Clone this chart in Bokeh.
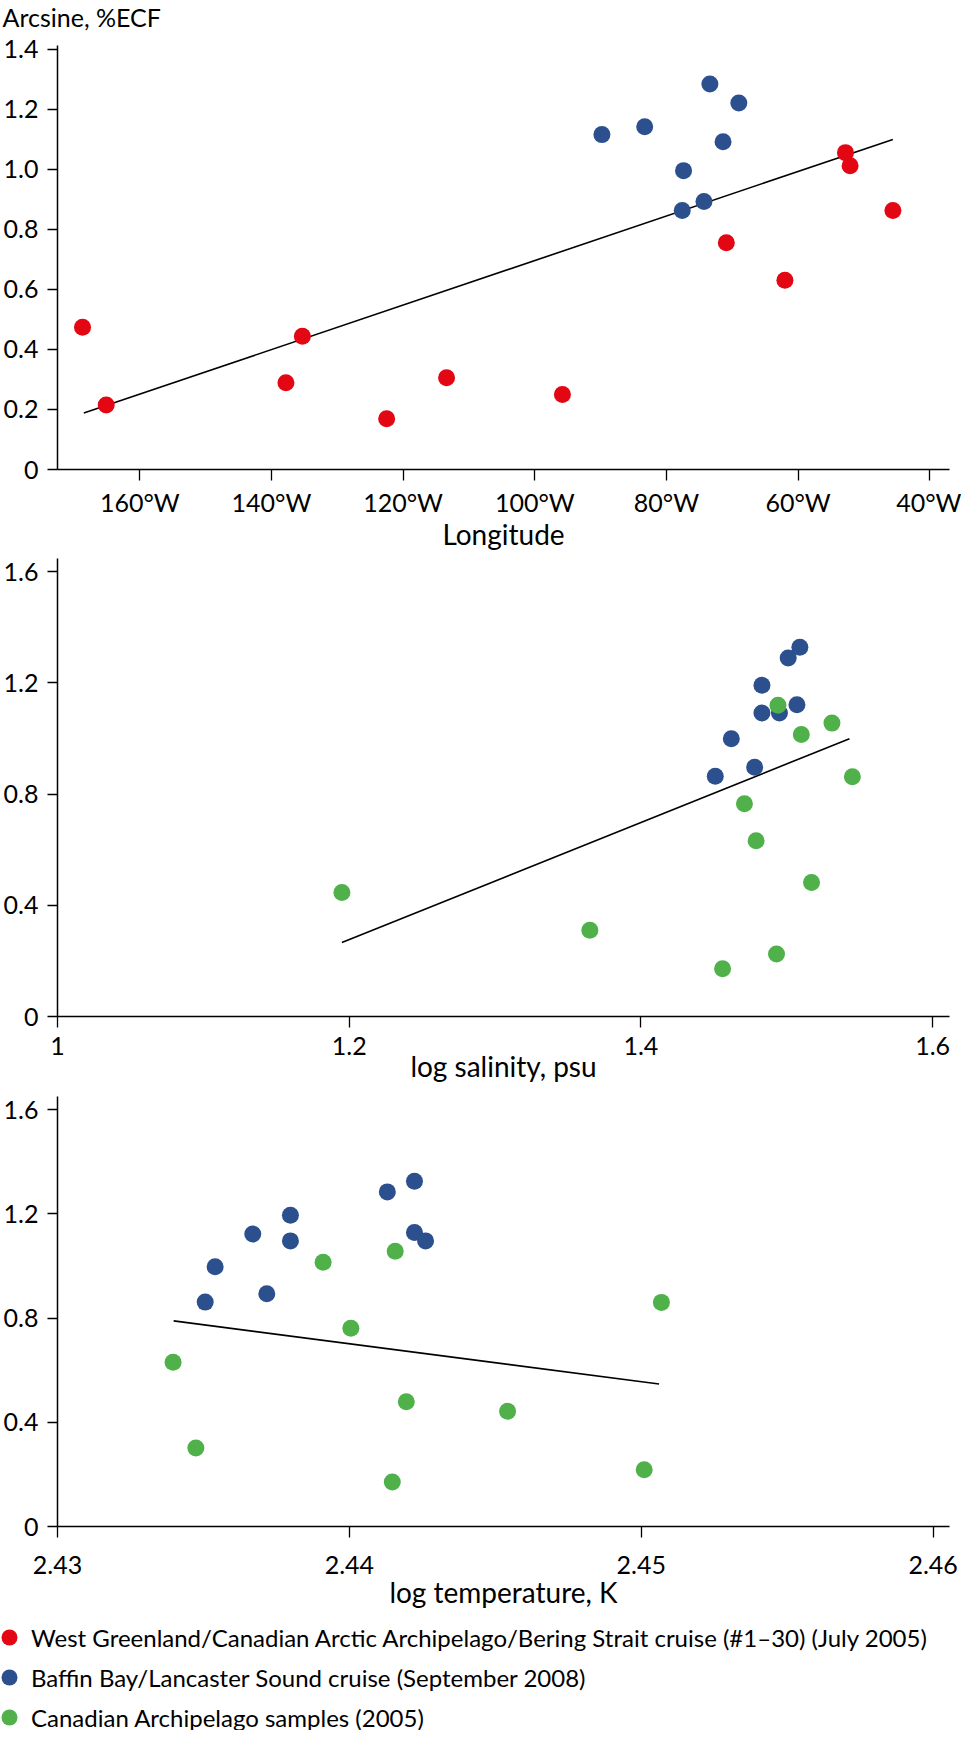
from bokeh.plotting import figure
from bokeh.models import Range1d, FixedTicker, Legend, LegendItem, Title
from bokeh.layouts import column
from bokeh.embed import file_html
from bokeh.resources import INLINE

FONT = "Lato"
RED = "#e30613"
BLUE = "#2c4f8e"
GREEN = "#50b04a"

series_names = [
    "West Greenland/Canadian Arctic Archipelago/Bering Strait cruise (#1\u201330) (July 2005)",
    "Baffin Bay/Lancaster Sound cruise (September 2008)",
    "Canadian Archipelago samples (2005)",
]
series_colors = [RED, BLUE, GREEN]

y_title = "Arcsine, %ECF"

# ---- Panel 1: longitude ----
lon_red = [-168.7, -165.1, -137.8, -135.3, -122.5, -113.4, -95.8, -70.9, -62.0, -52.8, -52.1, -45.6]
asin_red = [0.474, 0.215, 0.289, 0.444, 0.169, 0.306, 0.250, 0.756, 0.631, 1.056, 1.012, 0.863]
lon_blue = [-89.8, -83.3, -73.4, -69.0, -71.4, -77.4, -74.3, -77.6]
asin_blue = [1.116, 1.142, 1.285, 1.221, 1.092, 0.996, 0.893, 0.863]
lon_fit_x = [-168.5, -45.6]
lon_fit_y = [0.188, 1.100]
lon_ticks = [-160, -140, -120, -100, -80, -60, -40]
lon_tick_labels = ["160\u00b0W", "140\u00b0W", "120\u00b0W", "100\u00b0W", "80\u00b0W", "60\u00b0W", "40\u00b0W"]
asin1_ticks = [0, 0.2, 0.4, 0.6, 0.8, 1.0, 1.2, 1.4]
asin1_tick_labels = ["0", "0.2", "0.4", "0.6", "0.8", "1.0", "1.2", "1.4"]

# ---- Panel 2: log salinity ----
sal_blue = [1.451, 1.462, 1.478, 1.483, 1.483, 1.495, 1.501, 1.509, 1.507]
asin2_blue = [0.864, 0.999, 0.896, 1.091, 1.191, 1.091, 1.289, 1.328, 1.121]
sal_green = [1.195, 1.365, 1.456, 1.471, 1.479, 1.493, 1.494, 1.510, 1.517, 1.531, 1.545]
asin2_green = [0.446, 0.310, 0.172, 0.765, 0.632, 0.225, 1.119, 1.014, 0.482, 1.055, 0.862]
sal_fit_x = [1.195, 1.543]
sal_fit_y = [0.266, 0.999]
sal_ticks = [1.0, 1.2, 1.4, 1.6]
sal_tick_labels = ["1", "1.2", "1.4", "1.6"]

# ---- Panel 3: log temperature ----
temp_blue = [2.43506, 2.43540, 2.43669, 2.43717, 2.43798, 2.43798, 2.44130, 2.44223, 2.44223, 2.44261]
asin3_blue = [0.861, 0.997, 1.122, 0.893, 1.194, 1.096, 1.284, 1.325, 1.128, 1.096]
temp_green = [2.43396, 2.43474, 2.43910, 2.44005, 2.44147, 2.44157, 2.44195, 2.44542, 2.45010, 2.45069]
asin3_green = [0.630, 0.301, 1.014, 0.761, 0.171, 1.056, 0.479, 0.442, 0.218, 0.860]
temp_fit_x = [2.43398, 2.45061]
temp_fit_y = [0.789, 0.547]
temp_ticks = [2.43, 2.44, 2.45, 2.46]
temp_tick_labels = ["2.43", "2.44", "2.45", "2.46"]

asin_ticks = [0, 0.4, 0.8, 1.2, 1.6]
asin_tick_labels = ["0", "0.4", "0.8", "1.2", "1.6"]

x_titles = ["Longitude", "log salinity, psu", "log temperature, K"]

DOT = 17


def make_fig(height, btop, bbottom, xr, yr, xt, xl, yt, yl, xtitle, lab_so, title_so):
    p = figure(width=961, height=height, x_range=Range1d(*xr), y_range=Range1d(*yr),
               output_backend="svg", toolbar_location=None,
               min_border_left=56, min_border_right=12,
               min_border_top=btop, min_border_bottom=bbottom)
    p.grid.visible = False
    p.outline_line_color = None
    p.background_fill_color = "white"
    for ax in (p.xaxis[0], p.yaxis[0]):
        ax.axis_line_color = "black"
        ax.axis_line_width = 1.5
        ax.major_tick_line_color = "black"
        ax.major_tick_line_width = 1.3
        ax.minor_tick_line_color = None
        ax.major_tick_in = 0
        ax.major_label_text_font = FONT
        ax.major_label_text_font_size = "25px"
        ax.major_label_text_color = "black"
    xa = p.xaxis[0]
    xa.ticker = FixedTicker(ticks=xt)
    xa.major_label_overrides = dict(zip(xt, xl))
    xa.major_tick_out = 11
    xa.major_label_standoff = lab_so
    xa.axis_label = xtitle
    xa.axis_label_text_font = FONT
    xa.axis_label_text_font_size = "28px"
    xa.axis_label_text_font_style = "normal"
    xa.axis_label_text_color = "black"
    xa.axis_label_standoff = title_so
    ya = p.yaxis[0]
    ya.ticker = FixedTicker(ticks=yt)
    ya.major_label_overrides = dict(zip(yt, yl))
    ya.major_tick_out = 10
    ya.major_label_standoff = 9
    return p


# Figure 1
p1 = make_fig(553, 45, 82, (-172.5, -37.0), (0, 1.413), lon_ticks, lon_tick_labels,
              asin1_ticks, asin1_tick_labels, x_titles[0], 6, -3)
# spacer (closest to the frame), then the y-quantity header above it
p1.add_layout(Title(text=" ", text_font=FONT, text_font_size="10px", standoff=-3), "above")
p1.add_layout(Title(text=y_title, align="left", offset=-55, standoff=2, vertical_align="top",
                    text_font=FONT, text_font_size="25px", text_font_style="normal",
                    text_color="black"), "above")
p1.line(lon_fit_x, lon_fit_y, line_color="black", line_width=1.6)
p1.scatter(lon_red, asin_red, size=DOT, fill_color=series_colors[0], line_color=None)
p1.scatter(lon_blue, asin_blue, size=DOT, fill_color=series_colors[1], line_color=None)

# Figure 2
p2 = make_fig(538, 5, 75, (1.0, 1.6116), (0, 1.647), sal_ticks, sal_tick_labels,
              asin_ticks, asin_tick_labels, x_titles[1], 9, -9)
p2.line(sal_fit_x, sal_fit_y, line_color="black", line_width=1.6)
p2.scatter(sal_blue, asin2_blue, size=DOT, fill_color=series_colors[1], line_color=None)
p2.scatter(sal_green, asin2_green, size=DOT, fill_color=series_colors[2], line_color=None)

# Figure 3
p3 = make_fig(526, 5, 91, (2.43, 2.46056), (0, 1.65), temp_ticks, temp_tick_labels,
              asin_ticks, asin_tick_labels, x_titles[2], 18, -2)
p3.line(temp_fit_x, temp_fit_y, line_color="black", line_width=1.6)
p3.scatter(temp_blue, asin3_blue, size=DOT, fill_color=series_colors[1], line_color=None)
p3.scatter(temp_green, asin3_green, size=DOT, fill_color=series_colors[2], line_color=None)

# Legend figure (its own root so its frame starts at the page's left edge)
p4 = figure(width=961, height=113, output_backend="svg", toolbar_location=None,
            x_axis_location=None, y_axis_location=None,
            min_border_left=0, min_border_right=0, min_border_top=0, min_border_bottom=0)
p4.grid.visible = False
p4.outline_line_color = None
legend_data = [(lon_red, asin_red), (lon_blue, asin_blue), (temp_green, asin3_green)]
items = []
for name, col, (xs, ys) in zip(series_names, series_colors, legend_data):
    r = p4.scatter(xs, ys, size=DOT, fill_color=col, line_color=None)
    r.visible = False
    items.append(LegendItem(label=name, renderers=[r]))
leg = Legend(items=items, location=(-11, -7), orientation="vertical",
             glyph_width=40, glyph_height=40, label_height=40, spacing=0,
             padding=0, margin=0, label_standoff=2,
             label_text_font=FONT, label_text_font_size="24px", label_text_color="black",
             background_fill_alpha=0, border_line_alpha=0, inactive_fill_alpha=0)
p4.add_layout(leg, "center")

charts = column(p1, p2, p3)
open("out.html", "w").write(file_html([charts, p4], INLINE))
